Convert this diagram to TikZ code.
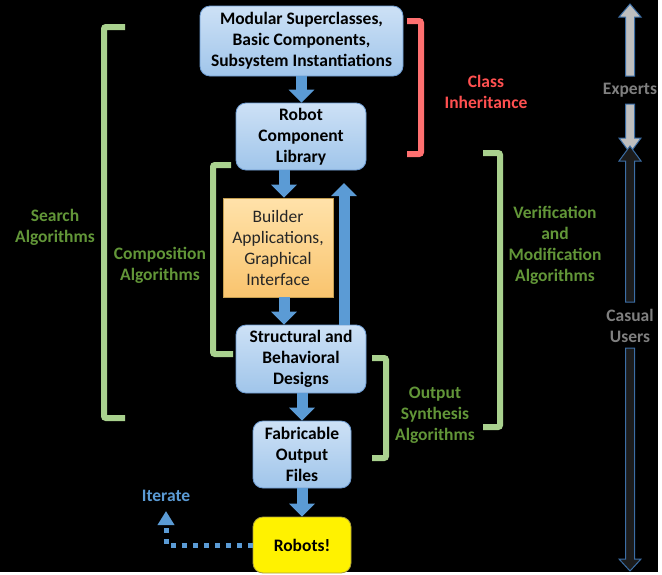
\documentclass[tikz,border=0pt]{standalone}
\usepackage{fontspec}
\setmainfont{Carlito}
\usetikzlibrary{arrows.meta,calc}
\definecolor{bluearr}{RGB}{91,155,213}
\definecolor{boxtop}{RGB}{205,225,246}
\definecolor{boxbot}{RGB}{160,197,234}
\definecolor{boxline}{RGB}{110,156,210}
\definecolor{bldtop}{RGB}{255,226,170}
\definecolor{bldbot}{RGB}{249,196,110}
\definecolor{bldline}{RGB}{196,158,80}
\definecolor{brgreen}{RGB}{169,209,142}
\definecolor{txgreen}{RGB}{98,150,56}
\definecolor{brred}{RGB}{255,112,112}
\definecolor{txred}{RGB}{255,80,80}
\definecolor{txgray}{RGB}{127,127,127}
\definecolor{arrgray}{RGB}{191,191,191}
\definecolor{arrdark}{RGB}{28,28,28}
\definecolor{arrline}{RGB}{60,110,165}
\definecolor{robline}{RGB}{170,160,60}
\newcommand{\dgfont}{\fontsize{17.5}{21}\selectfont}
\tikzset{
  bbox/.style={rounded corners=10pt, top color=boxtop, bottom color=boxbot, draw=boxline, line width=0.8pt,
    align=center, inner sep=0pt, font=\dgfont\bfseries, text=black},
  bldbox/.style={top color=bldtop, bottom color=bldbot, draw=bldline, line width=0.8pt,
    align=center, inner sep=0pt, font=\dgfont, text=black!85},
  robbox/.style={rounded corners=10pt, fill=yellow, draw=robline, line width=0.8pt,
    align=center, inner sep=0pt, font=\dgfont\bfseries, text=black},
  fatarrow/.style={bluearr, line width=11pt, -{Triangle[width=25pt,length=13pt]}},
  dotarrow/.style={bluearr, line width=5pt, dash pattern=on 5pt off 6pt, -{Triangle[width=16pt,length=14pt]}},
  gbracket/.style={brgreen, line width=6pt, rounded corners=2pt},
  rbracket/.style={brred, line width=6pt, rounded corners=2pt},
  glabel/.style={align=center, text=txgreen, font=\dgfont\bfseries},
  sidearrow/.style={line width=1pt, draw=arrline},
  sidelabel/.style={align=center, text=txgray, font=\dgfont\bfseries}
}
\begin{document}
\begin{tikzpicture}[x=1pt,y=-1pt]
\useasboundingbox (0,0) rectangle (662,574);
\fill[white] (0,0) rectangle (662,574);
\fill[black] (0,0) rectangle (658,572);

% boxes
\node[bbox, minimum width=203pt, minimum height=70pt] (b1) at (301.5,41) {Modular Superclasses,\\Basic Components,\\Subsystem Instantiations};
\node[bbox, minimum width=130pt, minimum height=67pt] (b2) at (301,136.5) {Robot\\Component\\Library};
\node[bldbox, minimum width=110pt, minimum height=99pt] (bld) at (278,247.5) {Builder\\Applications,\\Graphical\\Interface};
\node[bbox, minimum width=130pt, minimum height=68pt] (str) at (301,359) {Structural and\\Behavioral\\Designs};
\node[bbox, minimum width=98pt, minimum height=67pt] (fab) at (302,454.5) {Fabricable\\Output\\Files};
\node[robbox, minimum width=98pt, minimum height=56pt] (rob) at (302,545) {Robots!};

% fat arrows
\coordinate (ax) at (284,0);
\coordinate (ux) at (344,0);
\coordinate (uptip) at (344,183);
\draw[fatarrow] (b1.south) -- (b1.south |- b2.north);
\draw[fatarrow] (b2.south -| ax) -- (bld.north -| ax);
\draw[fatarrow] (bld.south -| ax) -- (str.north -| ax);
\draw[fatarrow] (str.north -| ux) -- (uptip);
\draw[fatarrow] (str.south -| fab.north) -- (fab.north);
\draw[fatarrow] (fab.south) -- (rob.north);

% iterate
\coordinate (itip) at (166,511);
\draw[dotarrow] (rob.west) -| (itip);
\node[text=bluearr, font=\dgfont\bfseries] (it) at (166,496) {Iterate};

% brackets
\draw[rbracket] (407,21) -- (421,21) -- (421,154) -- (407,154);
\node[align=center, text=txred, font=\dgfont\bfseries] (ci) at (486,91.5) {Class\\Inheritance};

\draw[gbracket] (125,27) -- (104,27) -- (104,418) -- (125,418);
\node[glabel] (sa) at (55,227.5) {Search\\Algorithms};

\draw[gbracket] (231,165) -- (213,165) -- (213,354) -- (233,354);
\node[glabel] (ca) at (160,265.5) {Composition\\Algorithms};

\draw[gbracket] (483,153) -- (500,153) -- (500,427) -- (483,427);
\node[glabel] (va) at (555,245) {Verification\\and\\Modification\\Algorithms};

\draw[gbracket] (372,358) -- (386,358) -- (386,458) -- (372,458);
\node[glabel] (oa) at (435,415.5) {Output\\Synthesis\\Algorithms};

% side arrows
\filldraw[sidearrow, fill=arrgray] (625.5,76) -- (625.5,17) -- (619,17) -- (630,4) -- (641,17) -- (634.5,17) -- (634.5,76) -- cycle;
\filldraw[sidearrow, fill=arrgray] (625.5,104) -- (625.5,138) -- (619,138) -- (630,153) -- (641,138) -- (634.5,138) -- (634.5,104) -- cycle;
\filldraw[sidearrow, fill=arrdark] (625.5,302) -- (625.5,161) -- (619,161) -- (630,146) -- (641,161) -- (634.5,161) -- (634.5,302) -- cycle;
\filldraw[sidearrow, fill=arrdark] (625.5,348) -- (625.5,559) -- (619,559) -- (630,571) -- (641,559) -- (634.5,559) -- (634.5,348) -- cycle;
\node[sidelabel] (ex) at (630,90) {Experts};
\node[sidelabel] (cu) at (630,325.5) {Casual\\Users};
\end{tikzpicture}
\end{document}
